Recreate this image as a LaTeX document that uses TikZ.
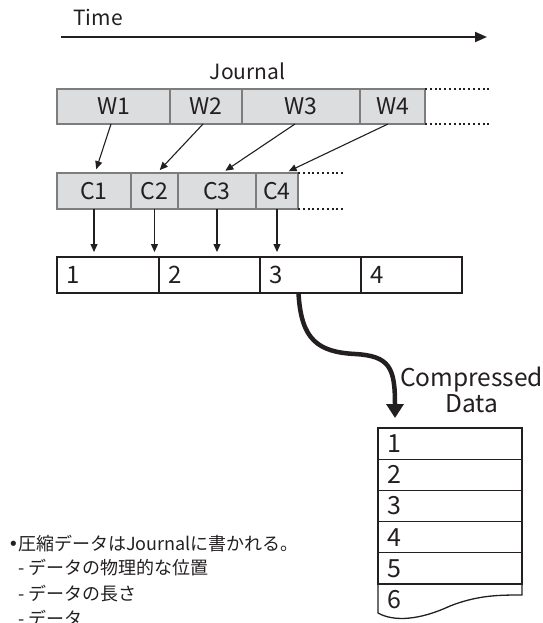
\documentclass[tikz,border=0pt]{standalone}
\usepackage{fontspec}
\setmainfont{Noto Sans CJK JP}
\newfontfamily\dvfont{DejaVu Sans}
\usetikzlibrary{arrows.meta,calc}
\definecolor{boxfill}{RGB}{220,221,222}
\definecolor{boxline}{RGB}{125,125,125}
\definecolor{ink}{RGB}{35,31,32}
\begin{document}
\begin{tikzpicture}[x=1pt,y=-1pt,
  lbl/.style={font=\fontsize{21}{24}\selectfont, text=ink},
  gbox/.style={draw=boxline, fill=boxfill, line width=2pt, inner sep=0pt, outer sep=0pt,
     anchor=north west, font=\fontsize{23}{26}\selectfont, text=ink},
  wbox/.style={gbox, minimum height=35pt},
  cbox/.style={gbox, minimum height=36pt},
  nbox/.style={draw=ink, line width=1.1pt, inner xsep=9pt, inner ysep=0pt, outer sep=0pt,
     minimum height=36pt, anchor=north west, align=left, font=\fontsize{24}{26}\selectfont, text=ink},
  sbox/.style={draw=ink, line width=1.3pt, inner xsep=9pt, inner ysep=0pt, outer sep=0pt,
     minimum height=31.2pt, text width=126pt, anchor=north west, align=left,
     font=\fontsize{25}{26}\selectfont, text=ink},
  thin/.style={draw=ink, line width=1.1pt, -{Triangle[length=8pt,width=7pt]}},
  dots/.style={draw=ink, line width=2pt, dash pattern=on 2pt off 2.8pt},
  jtext/.style={anchor=base west, inner sep=0pt, font=\fontsize{18}{25}\selectfont, text=ink}
]
\useasboundingbox (0,0) rectangle (542,623);

% time axis
\node[lbl, anchor=base west, inner sep=0pt] (time) at (73,26) {Time};
\coordinate (ts) at (61,37);
\coordinate (te) at (487,37);
\draw[ink, line width=2pt, -{Triangle[length=12pt,width=10pt]}] (ts) -- (te);

% journal
\node[lbl, anchor=base, inner sep=0pt] (journal) at (247.5,80) {Journal};
\node[wbox, minimum width=113pt] (w1) at (57,89) {W1};
\node[wbox, minimum width=72pt] (w2) at (170,89) {W2};
\node[wbox, minimum width=118pt] (w3) at (242,89) {W3};
\node[wbox, minimum width=65pt] (w4) at (360,89) {W4};
\coordinate (wdt) at (489,89);
\coordinate (wdb) at (489,124);
\draw[dots] (w4.north east) -- (wdt);
\draw[dots] (w4.south east) -- (wdb);

% compressed blocks
\node[cbox, minimum width=74pt] (c1) at (57,173) {C1};
\node[cbox, minimum width=47pt] (c2) at (131,173) {C2};
\node[cbox, minimum width=78pt] (c3) at (178,173) {C3};
\node[cbox, minimum width=42pt] (c4) at (256,173) {C4};
\coordinate (cdt) at (345,173);
\coordinate (cdb) at (345,209);
\draw[dots] (c4.north east) -- (cdt);
\draw[dots] (c4.south east) -- (cdb);

\draw[thin, shorten >=4pt] ($(w1.south)+(-2.5,0)$) -- ($(c1.north)+(1,0)$);
\draw[thin, shorten >=4pt] ($(w2.south)+(-3,0)$) -- ($(c2.north)+(2.5,0)$);
\draw[thin, shorten >=4pt] ($(w3.south)+(-6,0)$) -- ($(c3.north)+(5,0)$);
\draw[thin, shorten >=4pt] ($(w4.south)+(-4.5,0)$) -- ($(c4.north)+(8,0)$);

% numbered row
\node[nbox, text width=84pt] (n1) at (57,257) {1};
\node[nbox, text width=83pt] (n2) at (159,257) {2};
\node[nbox, text width=83pt] (n3) at (260,257) {3};
\node[nbox, text width=83pt] (n4) at (361,257) {4};

\draw[thin, shorten >=5pt] (c1.south) -- (c1.south |- n1.north);
\draw[thin, shorten >=5pt] (c2.south) -- (c2.south |- n1.north);
\draw[thin, shorten >=5pt] (c3.south) -- (c3.south |- n1.north);
\draw[thin, shorten >=5pt] (c4.south) -- (c4.south |- n1.north);

% compressed data stack
\node[font=\fontsize{24.5}{26}\selectfont, align=center, text=ink, inner sep=0pt] (cdlabel) at (471.5,390) {Compressed\\Data};
\node[sbox] (d1) at (378,428) {1};
\node[sbox] (d2) at (378,459.2) {2};
\node[sbox] (d3) at (378,490.4) {3};
\node[sbox] (d4) at (378,521.6) {4};
\node[sbox] (d5) at (378,552.8) {5};
\node[sbox, draw=none] (d6) at (378,584) {6};
\draw[ink, line width=1.3pt] (d6.north west) -- ($(d6.north west)+(0,29)$)
  .. controls ($(d6.north west)+(16,38)$) and ($(d6.north west)+(42,36)$) .. ($(d6.north west)+(72,22)$)
  .. controls ($(d6.north west)+(100,11)$) and ($(d6.north west)+(122,11)$) .. ($(d6.north east)+(0,11)$)
  -- (d6.north east);

% big curved arrow
\draw[ink, line width=4.5pt, -{Triangle[length=14pt,width=17pt]}, shorten >=10pt]
  ($(n3.south)+(-12,0)$) .. controls (301,340) and (318,352) .. (355,354)
  .. controls (390,356) and ($(d1.north west)+(17,-60)$) .. ($(d1.north west)+(17,0)$);

% notes
\node[jtext] (t1) at (8,550) {\makebox[10pt][l]{\dvfont •}圧縮データはJournalに書かれる。};
\node[jtext] (t2) at (18,574) {- データの物理的な位置};
\node[jtext] (t3) at (18,600) {- データの長さ};
\node[jtext] (t4) at (18,625) {- データ};
\end{tikzpicture}
\end{document}
